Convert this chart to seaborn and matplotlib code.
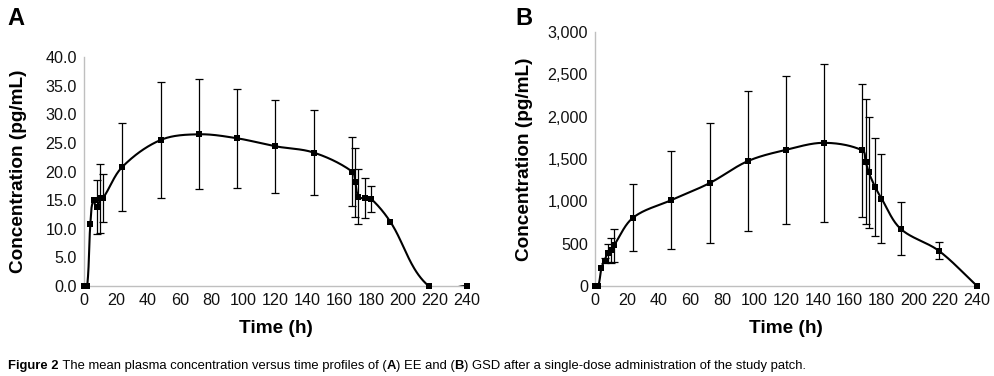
import numpy as np
import pandas as pd
import matplotlib
matplotlib.use("Agg")
import matplotlib.pyplot as plt
import seaborn as sns
from matplotlib import font_manager
from matplotlib.ticker import FuncFormatter, MultipleLocator

# ---------------- data ----------------
time_A = [0, 2, 4, 6, 8, 10, 12, 24, 48, 72, 96, 120, 144, 168, 170, 172, 176, 180, 192, 216, 240]
conc_A = [0, 0, 10.9, 15.1, 13.8, 15.3, 15.4, 20.8, 25.5, 26.5, 25.8, 24.4, 23.3, 20.0, 18.1, 15.6, 15.3, 15.2, 11.2, 0, 0]
sd_A = [np.nan, np.nan, np.nan, np.nan, 4.8, 6.0, 4.15, 7.75, 10.2, 9.6, 8.65, 8.1, 7.45,
        5.95, 6.05, 4.75, 3.5, 2.3, np.nan, np.nan, np.nan]

time_B = [0, 2, 4, 6, 8, 10, 12, 24, 48, 72, 96, 120, 144, 168, 170, 172, 176, 180, 192, 216, 240]
conc_B = [0, 0, 211, 301, 390, 420, 482, 808, 1015, 1215, 1475, 1608, 1691, 1602, 1470, 1341, 1170, 1033, 676, 416, 0]
sd_B = [np.nan, np.nan, np.nan, 35, 108, 148, 193, 394, 581, 712, 824, 877, 934,
        785, 741, 652, 583, 526, 311, 99, np.nan]

x_ticks = list(range(0, 241, 20))
xlabel = "Time (h)"
ylabel = "Concentration (pg/mL)"
panel_letters = ["A", "B"]
caption_parts = [("Figure 2", "bold"),
                 (" The mean plasma concentration versus time profiles of (", "normal"),
                 ("A", "bold"), (") EE and (", "normal"), ("B", "bold"),
                 (") GSD after a single-dose administration of the study patch.", "normal")]

# ---------------- style ----------------
sns.set_theme(style="white")
plt.rcParams['font.family'] = ['Liberation Sans', 'DejaVu Sans']
plt.rcParams['text.color'] = 'black'


def has_font(name):
    try:
        font_manager.findfont(font_manager.FontProperties(family=name), fallback_to_default=False)
        return True
    except Exception:
        return False


cap_family = 'Liberation Sans Narrow' if has_font('Liberation Sans Narrow') else 'Liberation Sans'


def smooth_curve(x, y, sx, sy, n=40):
    """Excel-like smoothed line via cardinal Bezier in screen-like units."""
    P = np.column_stack([np.asarray(x, float) * sx, np.asarray(y, float) * sy])
    m = len(P)
    L = np.linalg.norm(np.diff(P, axis=0), axis=1)
    out = [P[0]]
    for i in range(m - 1):
        p0 = P[i - 1] if i > 0 else P[i]
        p1, p2 = P[i], P[i + 1]
        p3 = P[i + 2] if i + 2 < m else P[i + 1]
        Li = L[i]
        s = 1.0 / 3.0
        d1 = (p2 - p0)
        d2 = (p3 - p1)
        n1 = np.linalg.norm(d1) or 1.0
        n2 = np.linalg.norm(d2) or 1.0
        c1 = p1 + d1 / n1 * Li * s
        c2 = p2 - d2 / n2 * Li * s
        t = np.linspace(0, 1, n)[1:, None]
        seg = ((1 - t) ** 3) * p1 + 3 * ((1 - t) ** 2) * t * c1 + 3 * (1 - t) * t ** 2 * c2 + t ** 3 * p2
        out.extend(seg)
    out = np.array(out)
    return out[:, 0] / sx, out[:, 1] / sy


fig = plt.figure(figsize=(9.95, 3.76), dpi=100)
axA = fig.add_axes([84 / 995, 90 / 376, 383 / 995, 229 / 376])
axB = fig.add_axes([595 / 995, 90 / 376, 382 / 995, 254 / 376])

spine_col = '#bfbfbf'
text_col = '#111111'

configs = [
    (axA, time_A, conc_A, sd_A, 40, 5, lambda v, p: f"{v:.1f}", 383 / 240, 229 / 40,
     (-0.149, 0.5), (0.5, -0.150)),
    (axB, time_B, conc_B, sd_B, 3000, 500, lambda v, p: f"{int(v):,}", 382 / 240, 254 / 3000,
     (-0.162, 0.5), (0.5, -0.135)),
]

for ax, t, c, sd, ymax, ystep, fmt, sx, sy, ylc, xlc in configs:
    t = np.asarray(t, float)
    c = np.asarray(c, float)
    sd = np.asarray(sd, float)
    mask = ~np.isnan(sd)
    ax.errorbar(t[mask], c[mask], yerr=sd[mask], fmt='none', ecolor='black',
                elinewidth=0.9, capsize=3, capthick=0.9, zorder=2)
    xs, ys = smooth_curve(t, c, sx, sy)
    dfl = pd.DataFrame({"t": xs, "c": ys})
    sns.lineplot(data=dfl, x="t", y="c", ax=ax, color='black', linewidth=1.5,
                 sort=False, estimator=None, zorder=3)
    dfp = pd.DataFrame({"t": t, "c": c})
    sns.scatterplot(data=dfp, x="t", y="c", ax=ax, marker='s', s=20, color='black',
                    edgecolor='black', linewidth=0, zorder=4, clip_on=False)
    ax.set_xlim(0, 240)
    ax.set_ylim(0, ymax)
    ax.set_xticks(x_ticks)
    ax.yaxis.set_major_locator(MultipleLocator(ystep))
    ax.yaxis.set_major_formatter(FuncFormatter(fmt))
    for s in ['top', 'right']:
        ax.spines[s].set_visible(False)
    for s in ['left', 'bottom']:
        ax.spines[s].set_color(spine_col)
        ax.spines[s].set_linewidth(1.0)
    ax.tick_params(axis='both', direction='in', length=4, width=1, color=spine_col,
                   labelsize=11.6, labelcolor=text_col, pad=5)
    ax.set_xlabel(xlabel, fontsize=13.7, fontweight='bold', color='black')
    ax.set_ylabel(ylabel, fontsize=13.7, fontweight='bold', color='black')
    ax.yaxis.set_label_coords(*ylc)
    ax.xaxis.set_label_coords(*xlc)
    ax.grid(False)

fig.text(7 / 995, 1 - 7 / 376, panel_letters[0], fontsize=17, fontweight='bold', va='top', ha='left',
         color='black')
fig.text(515 / 995, 1 - 7 / 376, panel_letters[1], fontsize=17, fontweight='bold', va='top', ha='left',
         color='black')

# caption with mixed weights
fig.canvas.draw()
renderer = fig.canvas.get_renderer()
x = 8 / 995
for txt, w in caption_parts:
    tt = fig.text(x, 7 / 376, txt, fontsize=9.4, fontweight=w, family=[cap_family, 'DejaVu Sans'],
                  va='baseline', ha='left', color='black')
    bb = tt.get_window_extent(renderer=renderer)
    x += bb.width / fig.bbox.width

fig.savefig("out.png", dpi=100, facecolor='white')
